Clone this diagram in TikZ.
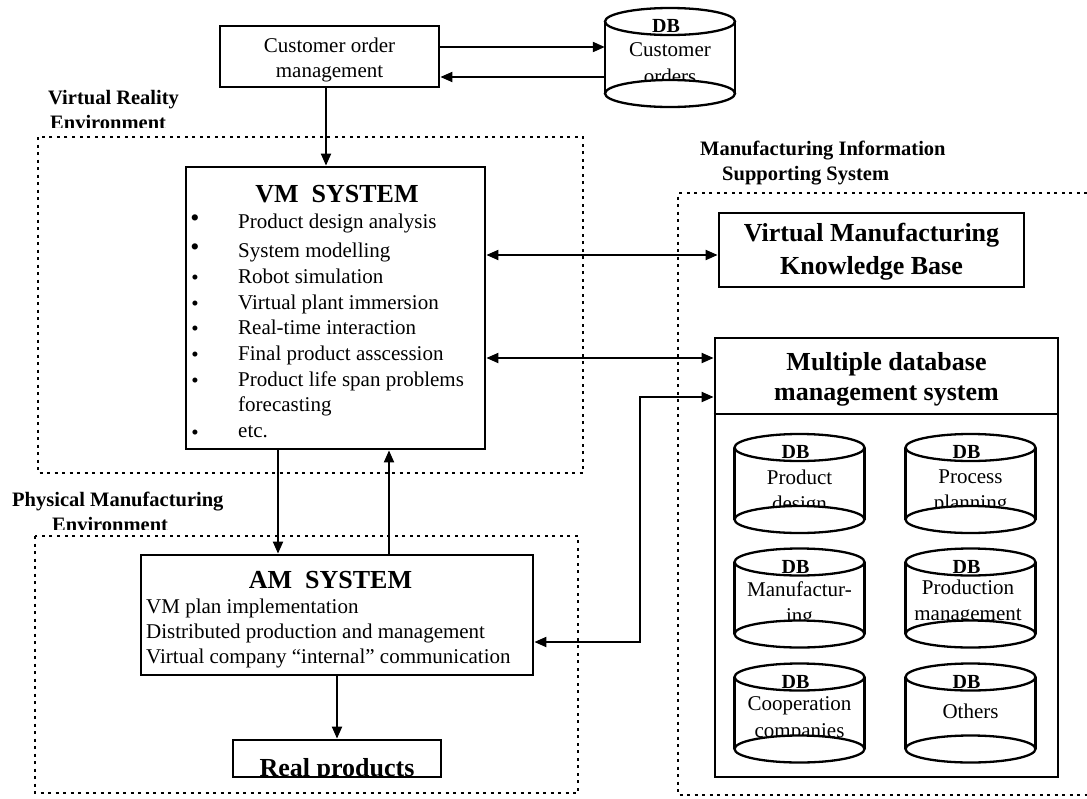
\documentclass[tikz,border=0pt]{standalone}
\usepackage{fontspec}
\setmainfont{Liberation Serif}
\usetikzlibrary{arrows.meta}
\newcommand{\fsN}{\fontsize{21}{25}\selectfont}
\newcommand{\fsH}{\fontsize{26}{33}\selectfont\bfseries}
\newcommand{\fsL}{\fontsize{20.5}{25}\selectfont\bfseries}
\newcommand{\fsD}{\fontsize{20}{24}\selectfont\bfseries}
\newcommand{\fsBa}{\fontsize{26}{26}\selectfont}
% cylinder: name, cx, T (top ellipse centre), text code
\newcommand{\dbcyl}[4]{%
  \node[inner sep=0pt, minimum width=130pt, minimum height=100pt] (#1) at (#2,#3+36) {};
  \draw[cylline] (#2-65,#3) -- (#2-65,#3+72) (#2+65,#3) -- (#2+65,#3+72);
  \draw[cylline] (#2,#3) ellipse [x radius=65, y radius=13.5];
  \node[txt, font=\fsD, anchor=base] (#1-db) at (#2-4,#3+11) {DB};
  #4
  \draw[cylline, fill=white] (#2,#3+72) ellipse [x radius=65, y radius=13.5];
}
\begin{document}
\begin{tikzpicture}[x=1pt,y=-1pt,
  box/.style={draw, line width=2.8pt, inner sep=0pt},
  zone/.style={line width=2.5pt, dash pattern=on 3pt off 4.5pt},
  conn/.style={line width=2pt, -{Triangle[length=12pt,width=10pt]}},
  biconn/.style={line width=2pt, {Triangle[length=12pt,width=10pt]}-{Triangle[length=12pt,width=10pt]}},
  cylline/.style={line width=2.3pt},
  txt/.style={inner sep=0pt, font=\fsN},
  lbl/.style={inner sep=0pt, font=\fsL, anchor=base west},
]
\useasboundingbox (0,0) rectangle (1087,798);

% zones
\draw[zone] (38,137) rectangle (583,473);
\draw[zone] (35,536) rectangle (578,793);
\draw[zone] (1087,193) -- (678,193) -- (678,795) -- (1087,795);

% zone labels
\node[lbl] (vr1) at (48,104) {Virtual Reality};
\begin{scope}
  \clip (0,80) rectangle (300,127);
  \node[lbl] (vr2) at (50,129) {Environment};
\end{scope}
\node[lbl] (pm1) at (12,506) {Physical Manufacturing};
\begin{scope}
  \clip (0,510) rectangle (300,529);
  \node[lbl] (pm2) at (52,531) {Environment};
\end{scope}
\node[lbl] (mi1) at (700,155) {Manufacturing Information};
\node[lbl] (mi2) at (722,180) {Supporting System};

% customer order management
\node[box, minimum width=219pt, minimum height=61pt, align=center, font=\fsN]
  (com) at (329.5,56.5) {\rule{0pt}{22pt}Customer order\\management};

% customer orders DB
\dbcyl{dbc}{670}{21.5}{%
  \node[txt, anchor=base] (dbc-a) at (670,56.5) {Customer};
  \node[txt, anchor=base] (dbc-b) at (670,83) {orders};
}

% VM system
\node[box, minimum width=299pt, minimum height=282pt] (vm) at (335.5,308) {};
\node[txt, font=\fsH, anchor=base] (vmt) at (337,202) {VM\ \ SYSTEM};
\node[txt, font=\fsBa, anchor=base] (b1) at (195,226) {\textbullet};
\node[txt, font=\fsBa, anchor=base] (b2) at (195,255) {\textbullet};
\node[txt, anchor=base] (b3) at (195,284.5) {\textbullet};
\node[txt, anchor=base] (b4) at (195,310.5) {\textbullet};
\node[txt, anchor=base] (b5) at (195,335.5) {\textbullet};
\node[txt, anchor=base] (b6) at (195,361.5) {\textbullet};
\node[txt, anchor=base] (b7) at (195,387.5) {\textbullet};
\node[txt, anchor=base] (b9) at (195,439.5) {\textbullet};
\node[txt, anchor=base west] (l1) at (238,228) {Product design analysis};
\node[txt, anchor=base west] (l2) at (238,257) {System modelling};
\node[txt, anchor=base west] (l3) at (238,283) {Robot simulation};
\node[txt, anchor=base west] (l4) at (238,309) {Virtual plant immersion};
\node[txt, anchor=base west] (l5) at (238,334) {Real-time interaction};
\node[txt, anchor=base west] (l6) at (238,360) {Final product asscession};
\node[txt, anchor=base west] (l7) at (238,386) {Product life span problems};
\node[txt, anchor=base west] (l8) at (238,411) {forecasting};
\node[txt, anchor=base west] (l9) at (238,437) {etc.};

% AM system
\node[box, minimum width=392pt, minimum height=120pt] (am) at (337,615) {};
\node[txt, font=\fsH, anchor=base] (amt) at (330.5,588) {AM\ \ SYSTEM};
\node[txt, anchor=base west] (a1) at (146,613) {VM plan implementation};
\node[txt, anchor=base west] (a2) at (146,638) {Distributed production and management};
\node[txt, anchor=base west] (a3) at (146,663) {Virtual company “internal” communication};

% real products
\node[box, minimum width=208pt, minimum height=37pt] (rp) at (337,758.5) {};
\begin{scope}
  \clip (235,742) rectangle (439,775.5);
  \node[txt, font=\fsH, anchor=base] (rpt) at (337,776) {Real products};
\end{scope}

% knowledge base
\node[box, minimum width=305pt, minimum height=74pt, align=center, font=\fsH]
  (kb) at (871.5,250) {\rule{0pt}{22pt}Virtual Manufacturing\\Knowledge Base};

% multiple database management system
\node[box, minimum width=343pt, minimum height=439pt] (mdb) at (886.5,557.5) {};
\node[txt, font=\fsH, anchor=base] (mdbt1) at (886.5,370) {Multiple database};
\node[txt, font=\fsH, anchor=base] (mdbt2) at (886.5,400) {management system};
\coordinate (h414) at (0,414);
\draw[line width=2.8pt] (mdb.west |- h414) -- (mdb.east |- h414);

\dbcyl{db1}{799.5}{447.5}{%
  \node[txt, anchor=base] (db1-a) at (799.5,484) {Product};
  \node[txt, anchor=base] (db1-b) at (799.5,510) {design};
}
\dbcyl{db2}{970.5}{447.5}{%
  \node[txt, anchor=base] (db2-a) at (970.5,483) {Process};
  \node[txt, anchor=base] (db2-b) at (970.5,509) {planning};
}
\dbcyl{db3}{799.5}{562}{%
  \node[txt, anchor=base] (db3-a) at (799.5,596) {Manufactur-};
  \node[txt, anchor=base] (db3-b) at (799.5,622) {ing};
}
\dbcyl{db4}{970.5}{562}{%
  \node[txt, anchor=base] (db4-a) at (968,594) {Production};
  \node[txt, anchor=base] (db4-b) at (968,620) {management};
}
\dbcyl{db5}{799.5}{677}{%
  \node[txt, anchor=base] (db5-a) at (799.5,710) {Cooperation};
  \node[txt, anchor=base] (db5-b) at (799.5,737) {companies};
}
\dbcyl{db6}{970.5}{677}{%
  \node[txt, anchor=base] (db6-a) at (970.5,718) {Others};
}

% connectors
\coordinate (h47) at (0,47);
\coordinate (h77) at (0,77);
\coordinate (h255) at (0,255);
\coordinate (h358) at (0,358);
\coordinate (h397) at (0,397);
\coordinate (h642) at (0,642);
\coordinate (v326) at (326,0);
\coordinate (v278) at (278,0);
\coordinate (v389) at (389,0);
\coordinate (v640) at (640,0);

\draw[conn] (com.east |- h47) -- (dbc.west |- h47);
\draw[conn] (dbc.west |- h77) -- (com.east |- h77);
\draw[conn] (com.south -| v326) -- (vm.north -| v326);
\draw[biconn] (vm.east |- h255) -- (kb.west |- h255);
\draw[biconn] (vm.east |- h358) -- (mdb.west |- h358);
\draw[biconn] (mdb.west |- h397) -- (v640 |- h397) -- (v640 |- h642) -- (am.east |- h642);
\draw[conn] (vm.south -| v278) -- (am.north -| v278);
\draw[conn] (am.north -| v389) -- (vm.south -| v389);
\draw[conn] (am.south) -- (rp.north);
\end{tikzpicture}
\end{document}
